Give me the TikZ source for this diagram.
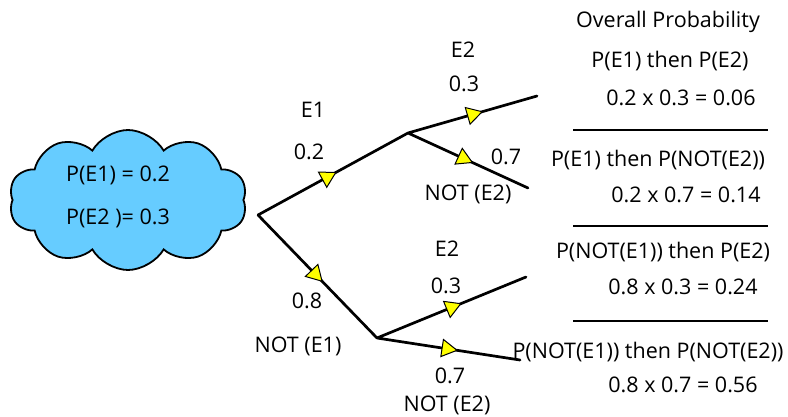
\documentclass[tikz,border=0pt]{standalone}
\usepackage{fontspec}
\setmainfont{Open Sans}
\usetikzlibrary{shapes.symbols,shapes.geometric}
\definecolor{skyblue}{RGB}{102,204,255}
\definecolor{tipyellow}{RGB}{255,255,0}
\tikzset{
  branch/.style={line width=2.7pt, line cap=round},
  tri/.style={regular polygon, regular polygon sides=3, minimum size=20pt,
    inner sep=0pt, fill=tipyellow, draw=black, line width=1pt},
  lbl/.style={font=\fontsize{21.5}{25}\selectfont, inner sep=0pt},
  rule/.style={line width=2pt},
}
\begin{document}
\begin{tikzpicture}[x=1pt,y=-1pt]
\useasboundingbox (0,0) rectangle (788,417);

% given probabilities
\node[cloud, cloud puffs=10, cloud puff arc=120, aspect=1.8, draw=black,
  line width=1.8pt, fill=skyblue, minimum width=238pt, minimum height=140pt]
  (given) at (128,200) {};
\node[lbl] (pe1) at (118,175) {P(E1) = 0.2};
\node[lbl] (pe2) at (118,218) {P(E2 )= 0.3};

% tree points
\coordinate (root) at (258,215);
\coordinate (a) at (408,133);
\coordinate (b) at (377,338);
\coordinate (a1) at (537,96);
\coordinate (a2) at (528,188);
\coordinate (b1) at (526,277);
\coordinate (b2) at (520,360);

\draw[branch] (root) -- (a) (root) -- (b)
  (a) -- (a1) (a) -- (a2) (b) -- (b1) (b) -- (b2);

% direction markers, each pointing along its branch
\path (root) -- (a) node[tri, pos=0.46, rotate=-61.3] (t1) {};
\path (root) -- (b) node[tri, pos=0.48, rotate=-136] (t2) {};
\path (a) -- (a1) node[tri, pos=0.5, rotate=-74] (t3) {};
\path (a) -- (a2) node[tri, pos=0.46, rotate=-114.6] (t4) {};
\path (b) -- (b1) node[tri, pos=0.5, rotate=-67.7] (t5) {};
\path (b) -- (b2) node[tri, pos=0.49, rotate=-98.7] (t6) {};

% branch labels
\node[lbl] (le1) at (313,110) {E1};
\node[lbl] (pa) at (309,152) {0.2};
\node[lbl] (pb) at (307,301) {0.8};
\node[lbl] (lne1) at (298,346) {NOT (E1)};
\node[lbl] (le2a) at (463,50) {E2};
\node[lbl] (pa1) at (464,84) {0.3};
\node[lbl] (pa2) at (506,157) {0.7};
\node[lbl] (lne2a) at (468,194) {NOT (E2)};
\node[lbl] (le2b) at (447,249) {E2};
\node[lbl] (pb1) at (446,286) {0.3};
\node[lbl] (pb2) at (450,376) {0.7};
\node[lbl] (lne2b) at (447,405) {NOT (E2)};

% overall probabilities
\node[lbl] (head) at (668,22) {Overall Probability};
\node[lbl] (r1a) at (670,61) {P(E1) then P(E2)};
\node[lbl] (r1b) at (681,98) {0.2 x 0.3 = 0.06};
\node[lbl] (r2a) at (658,160) {P(E1) then P(NOT(E2))};
\node[lbl] (r2b) at (686,195) {0.2 x 0.7 = 0.14};
\node[lbl] (r3a) at (663,252) {P(NOT(E1)) then P(E2)};
\node[lbl] (r3b) at (683,287) {0.8 x 0.3 = 0.24};
\node[lbl] (r4a) at (648,352) {P(NOT(E1)) then P(NOT(E2))};
\node[lbl] (r4b) at (683,385) {0.8 x 0.7 = 0.56};

\coordinate (s1l) at (573,130); \coordinate (s1r) at (768,130);
\coordinate (s2l) at (573,226); \coordinate (s2r) at (768,226);
\coordinate (s3l) at (573,321); \coordinate (s3r) at (768,321);
\draw[rule] (s1l) -- (s1r) (s2l) -- (s2r) (s3l) -- (s3r);
\end{tikzpicture}
\end{document}
